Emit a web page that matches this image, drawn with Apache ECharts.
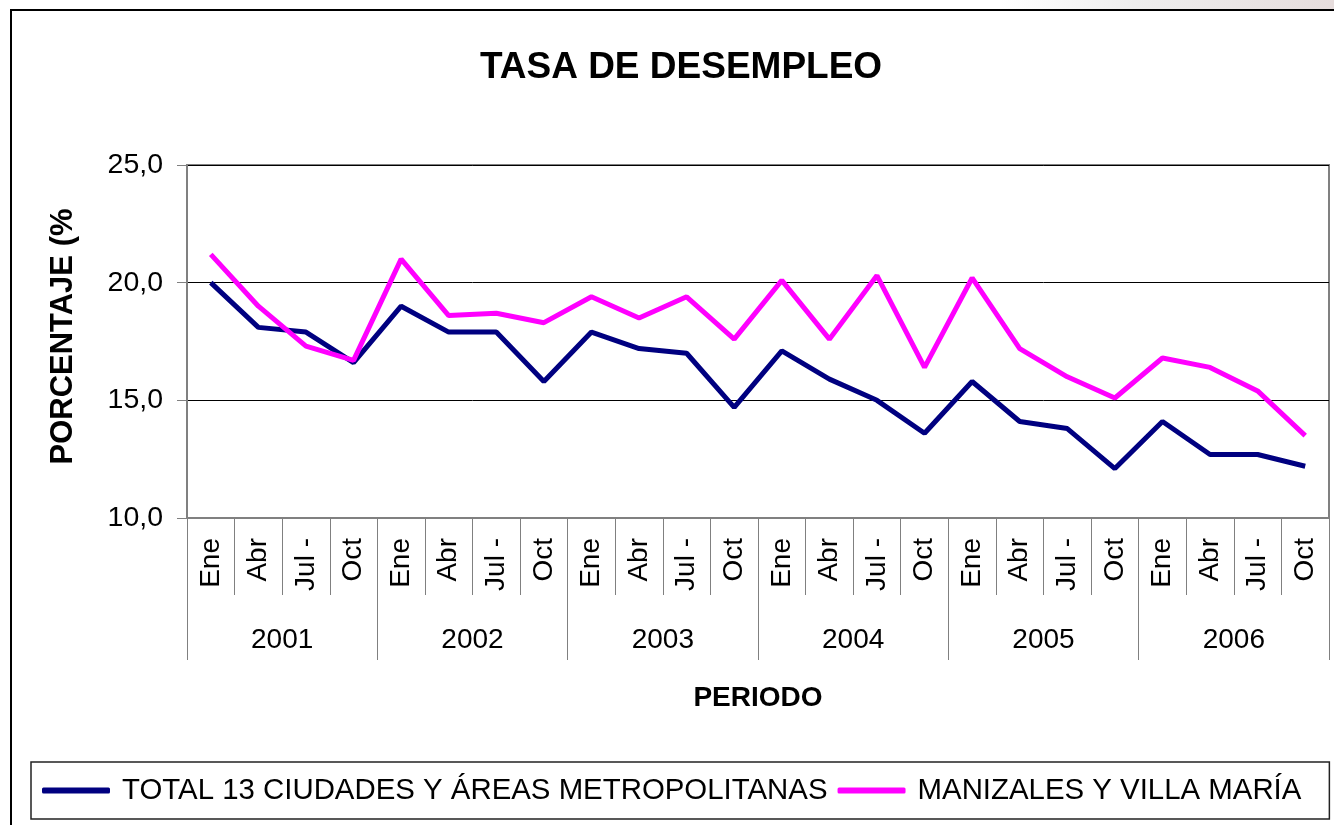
<!DOCTYPE html>
<html>
<head>
<meta charset="utf-8">
<script src="https://cdn.jsdelivr.net/npm/echarts@6/dist/echarts.min.js"></script>
<style>
html,body{margin:0;padding:0;background:#fff;}
#chart{width:1334px;height:825px;}
</style>
</head>
<body>
<div id="chart"></div>
<script>
// ---- data ----
var quarters = ['Ene','Abr','Jul -','Oct','Ene','Abr','Jul -','Oct','Ene','Abr','Jul -','Oct','Ene','Abr','Jul -','Oct','Ene','Abr','Jul -','Oct','Ene','Abr','Jul -','Oct'];
var years = ['2001','2002','2003','2004','2005','2006'];
var seriesNames = ['TOTAL 13 CIUDADES Y ÁREAS METROPOLITANAS','MANIZALES Y VILLA MARÍA'];
var total13 = [20.0, 18.1, 17.9, 16.6, 19.0, 17.9, 17.9, 15.8, 17.9, 17.2, 17.0, 14.7, 17.1, 15.9, 15.0, 13.6, 15.8, 14.1, 13.8, 12.1, 14.1, 12.7, 12.7, 12.2];
var manizales = [21.2, 19.0, 17.3, 16.7, 21.0, 18.6, 18.7, 18.3, 19.4, 18.5, 19.4, 17.6, 20.1, 17.6, 20.3, 16.4, 20.2, 17.2, 16.0, 15.1, 16.8, 16.4, 15.4, 13.5];
var yTicks = {min: 10, max: 25, interval: 5};

var FONT = '"Liberation Sans", Arial, sans-serif';
var chart = echarts.init(document.getElementById('chart'), null, {renderer: 'canvas'});
var option = {
  backgroundColor: '#fff',
  animation: false,
  title: {
    text: 'TASA DE DESEMPLEO',
    left: 676, top: 44, textAlign: 'center',
    textStyle: {fontFamily: FONT, fontSize: 37, fontWeight: 'bold', color: '#000'}
  },
  graphic: [
    {type: 'rect', silent: true, z: -1, shape: {x: 0, y: 0, width: 1334, height: 10},
      style: {fill: new echarts.graphic.LinearGradient(0, 0, 1, 0, [
        {offset: 0, color: '#ffffff'}, {offset: 0.75, color: '#ffffff'}, {offset: 0.85, color: '#eeeeee'}, {offset: 1, color: '#e6dcdc'}])}},
    {type: 'rect', silent: true, z: 10, shape: {x: 11, y: 10, width: 1400, height: 900},
      style: {fill: 'none', stroke: '#000', lineWidth: 2}}
  ],
  legend: {
    left: 31, top: 762,
    padding: [14, 28, 14, 11],
    itemGap: 10,
    itemWidth: 68, itemHeight: 6,
    icon: 'roundRect',
    borderColor: '#222', borderWidth: 1.5,
    textStyle: {fontFamily: FONT, fontSize: 29.4, color: '#000', padding: [0, 0, 0, 7]},
    data: seriesNames
  },
  grid: {left: 187, right: 5, top: 165, bottom: 307, show: true, borderColor: '#808080', borderWidth: 2},
  xAxis: [
    {
      type: 'category', data: quarters, position: 'bottom', boundaryGap: true,
      axisLine: {show: true, lineStyle: {color: '#808080', width: 2}},
      axisTick: {show: true, interval: 0, length: 77, lineStyle: {color: '#808080', width: 1}},
      axisLabel: {interval: 0, rotate: 90, margin: 20, fontFamily: FONT, fontSize: 28, color: '#000'},
      splitLine: {show: false}
    },
    {
      type: 'category', data: years, position: 'bottom', boundaryGap: true,
      axisLine: {show: false},
      axisTick: {show: true, interval: 0, length: 142, lineStyle: {color: '#808080', width: 1}},
      axisLabel: {interval: 0, margin: 108, fontFamily: FONT, fontSize: 28, color: '#000'},
      name: 'PERIODO', nameLocation: 'middle', nameGap: 166,
      nameTextStyle: {fontFamily: FONT, fontSize: 28, fontWeight: 'bold', color: '#000'},
      splitLine: {show: false}
    }
  ],
  yAxis: {
    type: 'value', min: yTicks.min, max: yTicks.max, interval: yTicks.interval,
    axisLine: {show: true, lineStyle: {color: '#808080', width: 2}},
    axisTick: {show: true, length: 10, lineStyle: {color: '#808080', width: 1}},
    axisLabel: {margin: 24, fontFamily: FONT, fontSize: 28.5, color: '#000',
      formatter: function (v) { return v.toFixed(1).replace('.', ','); }},
    splitLine: {show: true, lineStyle: {color: '#000', width: 1}},
    name: 'PORCENTAJE (%', nameLocation: 'middle', nameRotate: 90, nameGap: 108,
    nameTextStyle: {fontFamily: FONT, fontSize: 31, fontWeight: 'bold', color: '#000', padding: [0, 0, 0, 10]}
  },
  series: [
    {name: seriesNames[0], type: 'line', xAxisIndex: 0, data: total13, symbol: 'none', showSymbol: false,
      lineStyle: {color: '#000080', width: 5}, itemStyle: {color: '#000080'}},
    {name: seriesNames[1], type: 'line', xAxisIndex: 0, data: manizales, symbol: 'none', showSymbol: false,
      lineStyle: {color: '#FF00FF', width: 5}, itemStyle: {color: '#FF00FF'}}
  ]
};
chart.setOption(option);
</script>
</body>
</html>
